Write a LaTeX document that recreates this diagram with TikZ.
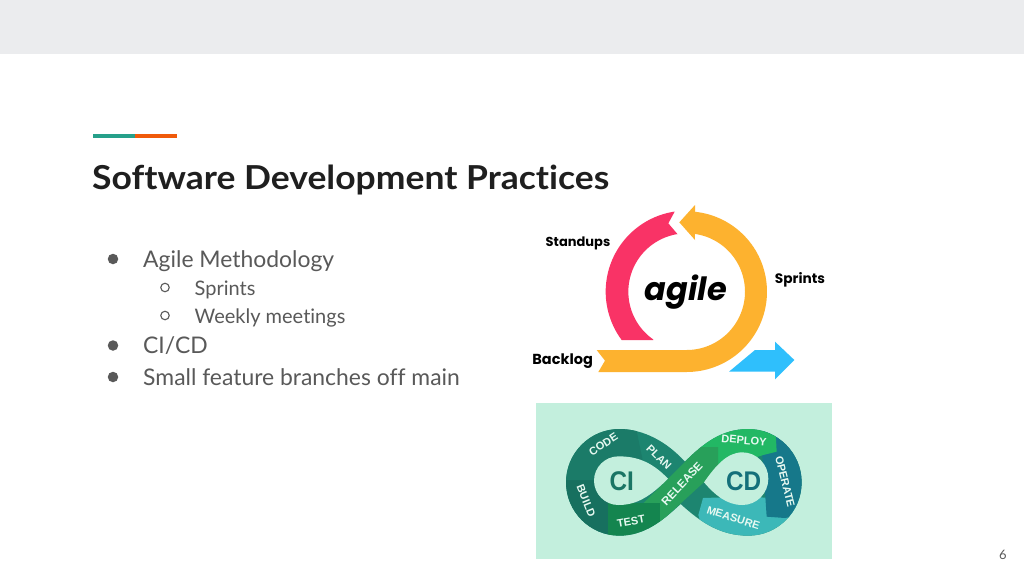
\documentclass[tikz,border=0pt]{standalone}
\usepackage{fontspec}
\setmainfont[Ligatures=NoCommon]{Lato}
\newfontfamily\popf{Poppins}
\newfontfamily\lsf{Liberation Sans}
\definecolor{bandgrey}{HTML}{EBECEE}
\definecolor{accteal}{HTML}{26A08A}
\definecolor{accorange}{HTML}{F05A0A}
\definecolor{titleink}{HTML}{1F1F1F}
\definecolor{bodyink}{HTML}{595959}
\definecolor{agpink}{HTML}{F93366}
\definecolor{agyellow}{HTML}{FDB22F}
\definecolor{agblue}{HTML}{2FBFFC}
\definecolor{mint}{HTML}{C3EFDD}
\definecolor{cbuild}{HTML}{17705F}
\definecolor{ccode}{HTML}{1B7B68}
\definecolor{cplan}{HTML}{1D8570}
\definecolor{ctest}{HTML}{14854F}
\definecolor{crelease}{HTML}{28A05A}
\definecolor{cdeploy}{HTML}{22B864}
\definecolor{coperate}{HTML}{16788A}
\definecolor{cmeasure}{HTML}{3CB8B8}
\definecolor{cici}{HTML}{1A7565}
\definecolor{cicd}{HTML}{14707A}
\tikzset{
  body/.style={anchor=base west,inner sep=0pt,text=bodyink,font=\fontsize{22.9}{24}\selectfont},
  subbody/.style={anchor=base west,inner sep=0pt,text=bodyink,font=\fontsize{20}{20}\selectfont},
  bigdot/.style={circle,fill=bodyink,minimum size=10.5pt,inner sep=0pt},
  smalldot/.style={circle,draw=bodyink,line width=1.1pt,minimum size=8.5pt,inner sep=0pt},
  aglabel/.style={inner sep=0pt,text=black},
  looplabel/.style={inner sep=0pt,text=mint!40!white,font=\lsf\bfseries\fontsize{11}{11}\selectfont},
}
\begin{document}
\begin{tikzpicture}[x=1pt,y=-1pt]
\useasboundingbox (0,0) rectangle (1024,576);
\fill[white] (0,0) rectangle (1024,576);
\fill[bandgrey] (0,0) rectangle (1024,54);
\fill[accteal] (93,133.5) rectangle (135,138);
\fill[accorange] (135,133.5) rectangle (176.5,138);
\node[anchor=base west,inner sep=0pt,text=titleink,xscale=1.075,font=\bfseries\fontsize{33}{33}\selectfont] (title) at (92,189.5) {Software Development Practices};
\node[bigdot] (b1) at (113,259) {};
\node[body] (t1) at (143,267.5) {Agile Methodology};
\node[smalldot] (s1) at (165,287.5) {};
\node[subbody] (t2) at (194.5,295) {Sprints};
\node[smalldot] (s2) at (165,315.5) {};
\node[subbody] (t3) at (194.5,323) {Weekly meetings};
\node[bigdot] (b2) at (113,345.5) {};
\node[body] (t4) at (143,353.5) {CI/CD};
\node[bigdot] (b3) at (113,377) {};
\node[body] (t5) at (143,385.5) {Small feature branches off main};
\node[anchor=base,inner sep=0pt,text=bodyink,font=\fontsize{13}{13}\selectfont] (pg) at (1003,559) {6};
% agile picture, drawn in the 3x zoom coordinates
\begin{scope}[shift={(520,195)},x=0.33333pt,y=-0.33333pt]
\fill[agpink] (305,435) -- plot[domain=216.6:98.5,samples=50,smooth] ({500+243*cos(\x)},{290-243*sin(\x)}) -- (445,85) -- (473,118) -- plot[domain=99:235,samples=50,smooth] ({500+175*cos(\x)},{290-175*sin(\x)}) -- (400,435) -- cycle;
\fill[agyellow] (230,465) -- (500,465) -- plot[domain=-90:82,samples=70,smooth] ({500+175*cos(\x)},{290-175*sin(\x)}) -- (525,135) -- (478,82) -- (525,30) -- (525,52) -- plot[domain=84:-90,samples=70,smooth] ({500+241*cos(\x)},{290-241*sin(\x)}) -- (235,531) -- (255,497) -- cycle;
\fill[agblue] (627,530) -- (705,465) -- (765,465) -- (765,440) -- (823,495) -- (765,553) -- (765,530) -- cycle;
\node[aglabel,font=\popf\bfseries\fontsize{13}{13}\selectfont] (standups) at (174,145) {Standups};
\node[aglabel,font=\popf\bfseries\fontsize{13.7}{13.7}\selectfont] (sprints) at (840,253) {Sprints};
\node[aglabel,font=\popf\bfseries\fontsize{14.5}{14.5}\selectfont] (backlog) at (128,498) {Backlog};
\node[inner sep=0pt,text=black,font=\popf\bfseries\itshape\fontsize{32}{32}\selectfont] (agile) at (498,292) {agile};
\end{scope}
% CI/CD picture, drawn in the 3x zoom coordinates
\begin{scope}[shift={(530,400)},x=0.33333pt,y=-0.33333pt]
\fill[mint] (18,10) rectangle (906,476);
\begin{scope}
\clip (465,185) .. controls (410,125) and (340,87) .. (268,87)
  .. controls (180,87) and (108,159) .. (108,247)
  .. controls (108,335) and (180,407) .. (268,407)
  .. controls (345,407) and (400,360) .. (452,312)
  .. controls (510,365) and (570,407) .. (655,407)
  .. controls (743,407) and (815,335) .. (815,247)
  .. controls (815,159) and (743,87) .. (655,87)
  .. controls (575,87) and (520,130) .. cycle;
\fill[cplan] (90,60) rectangle (840,430);
\fill[cbuild] (90,240) rectangle (235,430);
\fill[ccode] (90,240) -- (90,60) -- (313,60) -- (340,190) -- (265,240) -- cycle;
\fill[cmeasure] (519,294) -- (505,345) -- (530,430) -- (840,430) -- (840,300) -- (650,290) -- cycle;
\fill[coperate] (690,100) -- (735,60) -- (840,60) -- (840,340) -- (765,354) -- (710,350) -- (700,200) -- cycle;
\fill[cdeploy] (465,185) -- (560,60) -- (735,60) -- (740,155) -- (700,165) -- (564,207) -- (510,141) -- cycle;
\fill[crelease] (510,141) -- (564,141) -- (564,208) -- (390,367) -- (390,309) -- (341,309) -- cycle;
\fill[ctest] (235,309) -- (235,430) -- (390,430) -- (390,309) -- cycle;
\end{scope}
% the two inner holes
\fill[mint] (414,236) .. controls (360,290) and (320,315) .. (265,315)
  .. controls (225,315) and (192,282) .. (192,242)
  .. controls (192,202) and (225,169) .. (265,169)
  .. controls (320,169) and (365,185) .. cycle;
\fill[mint] (522,247) .. controls (555,200) and (590,157) .. (637,157)
  .. controls (680,157) and (715,193) .. (715,236)
  .. controls (715,280) and (680,315) .. (637,315)
  .. controls (590,315) and (555,285) .. cycle;
\node[looplabel,rotate=33] (code) at (220,133) {CODE};
\node[looplabel,rotate=-45] (plan) at (387,172) {PLAN};
\node[looplabel,rotate=-68] (build) at (168,302) {BUILD};
\node[looplabel,rotate=10] (test) at (303,364) {TEST};
\node[looplabel,rotate=47,font=\lsf\bfseries\fontsize{11.5}{11.5}\selectfont] (release) at (456,251) {RELEASE};
\node[looplabel,rotate=-5] (deploy) at (642,121) {DEPLOY};
\node[looplabel,rotate=-76] (operate) at (765,245) {OPERATE};
\node[looplabel,rotate=-18] (measure) at (610,354) {MEASURE};
\node[inner sep=0pt,text=cici,xscale=.9,font=\lsf\bfseries\fontsize{27}{27}\selectfont] (ci) at (275,245) {CI};
\node[inner sep=0pt,text=cicd,xscale=.9,font=\lsf\bfseries\fontsize{27}{27}\selectfont] (cd) at (641,245) {CD};
\end{scope}
\end{tikzpicture}
\end{document}
